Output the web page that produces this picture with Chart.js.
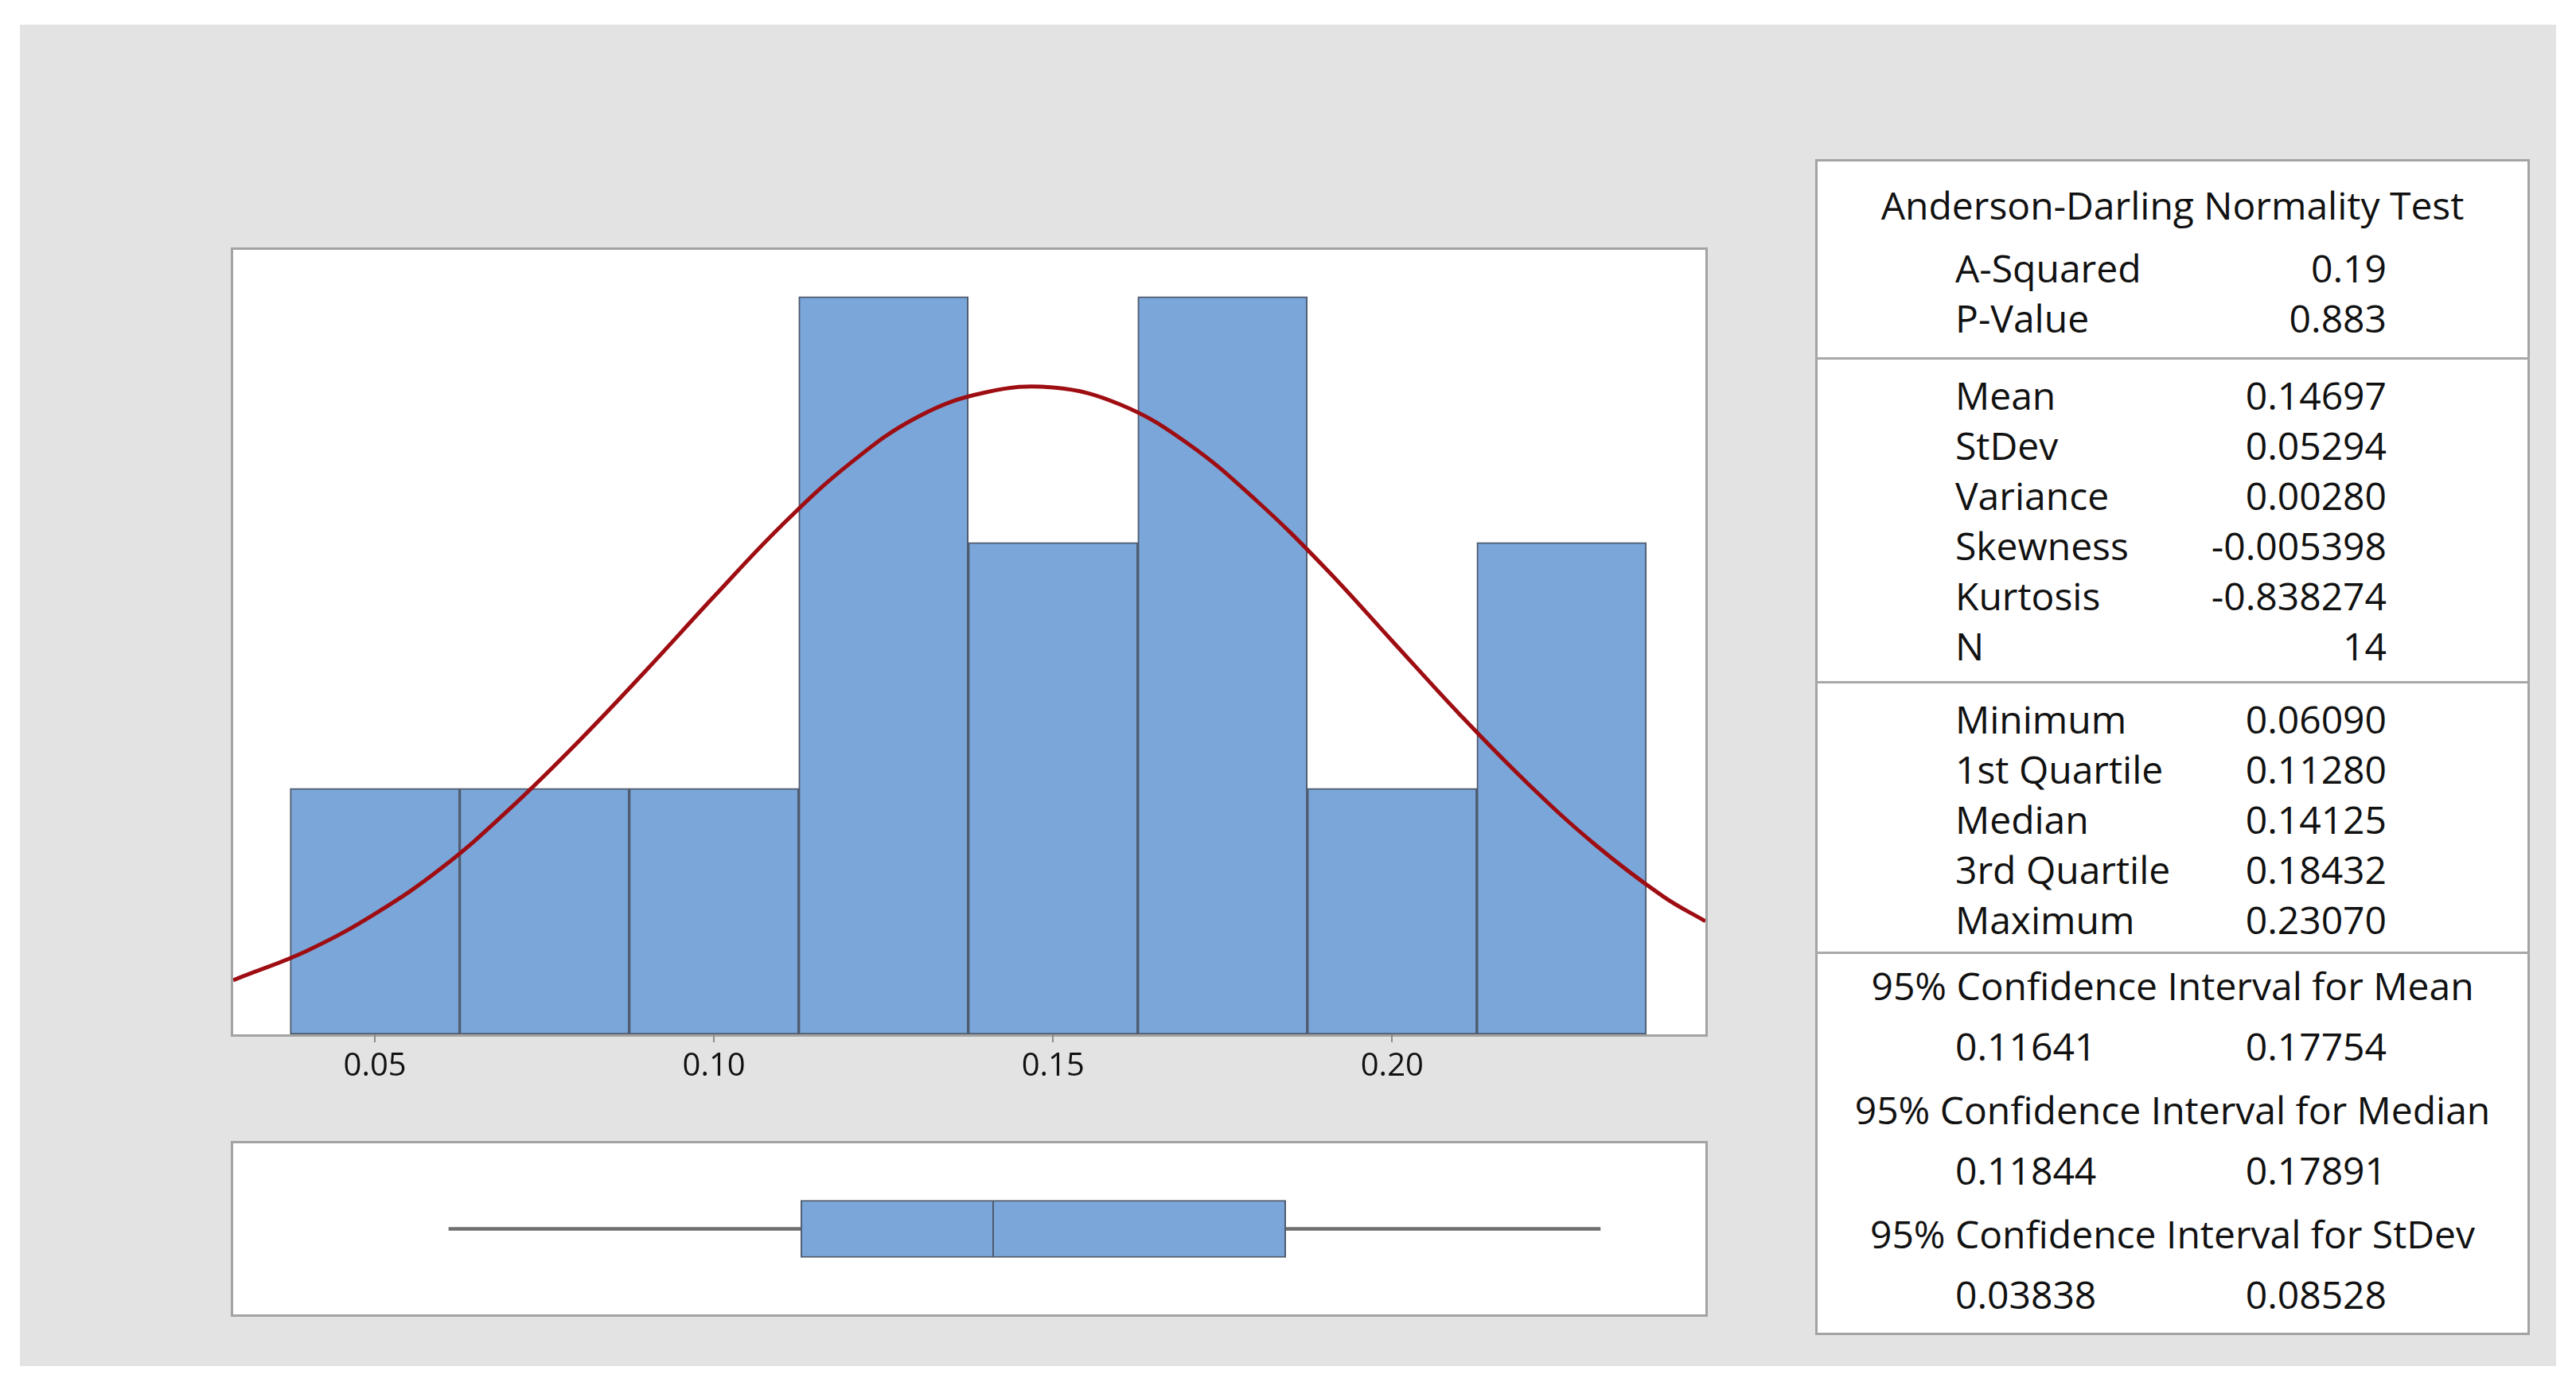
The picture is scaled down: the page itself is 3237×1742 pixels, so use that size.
<!DOCTYPE html>
<html>
<head>
<meta charset="utf-8">
<script src="https://cdn.jsdelivr.net/npm/chart.js@4.4.0/dist/chart.umd.min.js"></script>
<style>
body { margin:0; width:3237px; height:1742px; background:#fff; position:relative; overflow:hidden; font-family:"Open Sans", sans-serif; color:#111; }
#panel { position:absolute; left:25px; top:31px; width:3187px; height:1686px; background:#e3e3e3; }
.frame { position:absolute; background:#fff; border:3px solid #a3a3a3; }
#histFrame { left:290px; top:311px; width:1850px; height:986px; }
#boxFrame { left:290px; top:1434px; width:1850px; height:215px; }
#histWrap { position:absolute; left:293px; top:314px; }
#boxWrap { position:absolute; left:293px; top:1437px; }
#stats { position:absolute; left:2281px; top:200px; width:892px; height:1472px; background:#fff; border:3px solid #a3a3a3; }
.t { position:absolute; white-space:nowrap; font-size:48px; line-height:1; transform:translateY(-50%); }
.c { transform:translate(-50%,-50%); }
.r { transform:translate(-100%,-50%); }
.sep { position:absolute; left:2281px; width:898px; height:3px; background:#a8a8a8; }
</style>
</head>
<body>
<div id="panel"></div>
<div class="frame" id="histFrame"></div>
<div class="frame" id="boxFrame"></div>
<div id="histWrap"><canvas id="hist" width="1850" height="1086"></canvas></div>
<div id="boxWrap"><canvas id="box" width="1850" height="215"></canvas></div>
<div id="stats"></div>
<script>
// histogram bins (width 0.025) and counts
var binCenters = [0.05, 0.075, 0.10, 0.125, 0.15, 0.175, 0.20, 0.225];
var binCounts = [1, 1, 1, 3, 2, 3, 1, 2];

// fitted normal curve
var curveX = [0.0291, 0.03, 0.04, 0.05, 0.06, 0.07, 0.08, 0.09, 0.10, 0.11, 0.12, 0.13, 0.14, 0.15, 0.16, 0.17, 0.18, 0.19, 0.20, 0.21, 0.22, 0.23, 0.24, 0.2462];
var curveY = [0.22, 0.23, 0.34, 0.49, 0.68, 0.92, 1.19, 1.48, 1.78, 2.07, 2.32, 2.51, 2.61, 2.63, 2.56, 2.40, 2.17, 1.90, 1.60, 1.30, 1.02, 0.77, 0.56, 0.46];

var tickValues = [0.05, 0.10, 0.15, 0.20];
var xMin = 0.0291, xMax = 0.2462, yMax = 3.19;

// text panel
var testLabels = ['A-Squared', 'P-Value'];
var testValues = ['0.19', '0.883'];
var descLabels = ['Mean', 'StDev', 'Variance', 'Skewness', 'Kurtosis', 'N'];
var descValues = ['0.14697', '0.05294', '0.00280', '-0.005398', '-0.838274', '14'];
var quantLabels = ['Minimum', '1st Quartile', 'Median', '3rd Quartile', 'Maximum'];
var quantValues = ['0.06090', '0.11280', '0.14125', '0.18432', '0.23070'];
var ciTitles = ['95% Confidence Interval for Mean', '95% Confidence Interval for Median', '95% Confidence Interval for StDev'];
var ciLow = ['0.11641', '0.11844', '0.03838'];
var ciHigh = ['0.17754', '0.17891', '0.08528'];

var fill = '#7ba6d9', edge = '#4f5b6e';

new Chart(document.getElementById('hist'), {
	type: 'bar',
	data: {
		datasets: [{
			type: 'line',
			data: curveX.map((x, i) => ({x: x, y: curveY[i]})),
			borderColor: '#9e0d12',
			borderWidth: 5,
			pointRadius: 0,
			tension: 0.4,
			order: 0
		}, {
			type: 'bar',
			data: binCenters.map((x, i) => ({x: x, y: binCounts[i]})),
			backgroundColor: fill,
			borderColor: edge,
			borderWidth: 2,
			borderSkipped: false,
			barPercentage: 1,
			categoryPercentage: 1,
			order: 1
		}]
	},
	options: {
		responsive: false,
		animation: false,
		layout: {padding: 0},
		plugins: {legend: {display: false}, tooltip: {enabled: false}},
		scales: {
			x: {
				type: 'linear', min: xMin, max: xMax, offset: false,
				afterBuildTicks: s => { s.ticks = tickValues.map(v => ({value: v})); },
				afterFit: s => { s.height = 100; },
				grid: {drawOnChartArea: false, tickLength: 10, color: '#8c8c8c', lineWidth: 2, offset: false},
				border: {display: false},
				ticks: {font: {family: 'Open Sans', size: 40}, color: '#111', padding: 7, maxRotation: 0,
					callback: v => v.toFixed(2)}
			},
			y: {display: false, min: 0, max: yMax}
		}
	}
});

// boxplot from the quartile summary
var bMin = +quantValues[0], q1 = +quantValues[1], med = +quantValues[2], q3 = +quantValues[3], bMax = +quantValues[4];

new Chart(document.getElementById('box'), {
	type: 'bar',
	data: {
		labels: [''],
		datasets: [{
			data: [[q1, med]], backgroundColor: fill, borderColor: edge, borderWidth: 2,
			borderSkipped: false, barThickness: 72, grouped: false
		}, {
			data: [[med, q3]], backgroundColor: fill, borderColor: edge,
			borderWidth: {top: 2, right: 2, bottom: 2, left: 0},
			borderSkipped: false, barThickness: 72, grouped: false
		}, {
			data: [[bMin, bMax]], backgroundColor: '#6f6f6f', borderWidth: 0,
			barThickness: 4, grouped: false
		}]
	},
	options: {
		indexAxis: 'y',
		responsive: false,
		animation: false,
		layout: {padding: 0},
		plugins: {legend: {display: false}, tooltip: {enabled: false}},
		scales: {
			x: {type: 'linear', min: xMin, max: xMax, display: false},
			y: {display: false}
		}
	}
});

// statistics panel
function txt(s, x, y, cls) {
	var d = document.createElement('div');
	d.className = 't' + (cls ? ' ' + cls : '');
	d.textContent = s;
	d.style.left = x + 'px';
	d.style.top = y + 'px';
	document.body.appendChild(d);
}
function sep(y) {
	var d = document.createElement('div');
	d.className = 'sep';
	d.style.top = y + 'px';
	document.body.appendChild(d);
}
var lx = 2457, rx = 2999, cx = 2730, step = 63;
txt('Anderson-Darling Normality Test', cx, 258, 'c');
testLabels.forEach((l, i) => { txt(l, lx, 337 + i * step); txt(testValues[i], rx, 337 + i * step, 'r'); });
sep(449);
descLabels.forEach((l, i) => { txt(l, lx, 497 + i * step); txt(descValues[i], rx, 497 + i * step, 'r'); });
sep(856);
quantLabels.forEach((l, i) => { txt(l, lx, 904 + i * step); txt(quantValues[i], rx, 904 + i * step, 'r'); });
sep(1196);
ciTitles.forEach((t, i) => {
	var y = 1239 + i * 156;
	txt(t, cx, y, 'c');
	txt(ciLow[i], lx, y + 76);
	txt(ciHigh[i], rx, y + 76, 'r');
});
</script>
</body>
</html>
